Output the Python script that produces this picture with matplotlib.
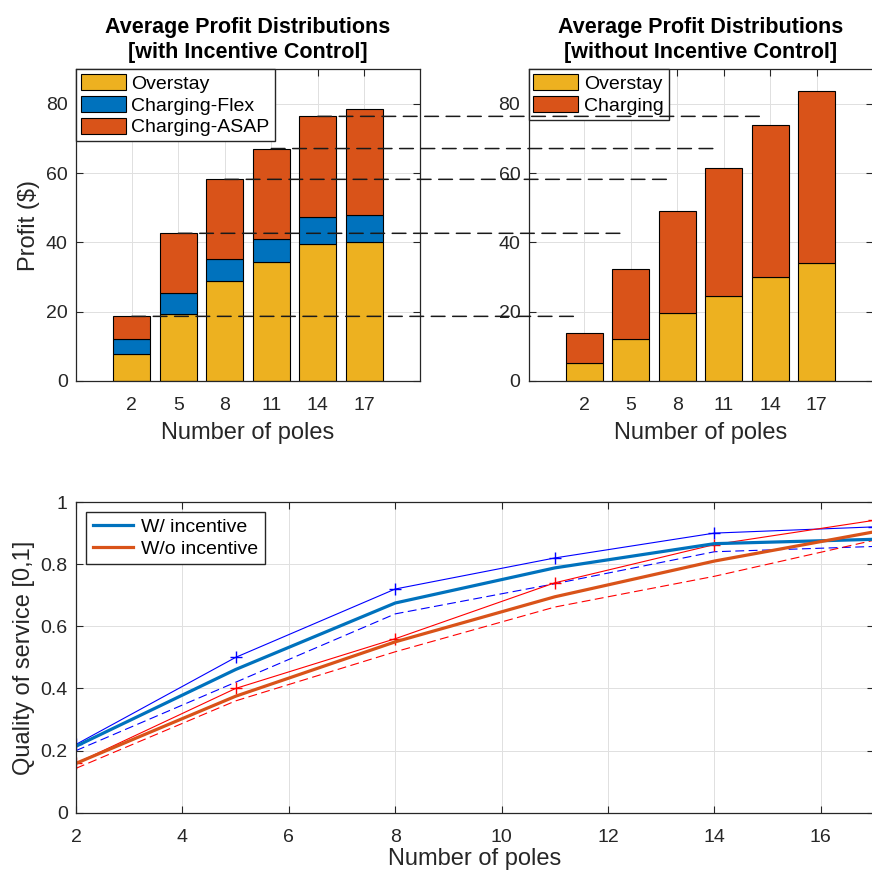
import numpy as np
import matplotlib
matplotlib.use('Agg')
import matplotlib.pyplot as plt
from matplotlib.patches import ConnectionPatch

plt.rcParams['font.family'] = ['Liberation Sans', 'DejaVu Sans']

# Profit data per number of poles
poles = ['2', '5', '8', '11', '14', '17']
inc_overstay = [7.8, 19.4, 28.7, 34.2, 39.6, 40.1]
inc_flex = [4.4, 5.9, 6.6, 6.9, 7.7, 7.8]
inc_asap = [6.4, 17.3, 22.9, 26.0, 29.1, 30.7]
noinc_overstay = [5.2, 12.2, 19.5, 24.4, 30.0, 34.1]
noinc_charging = [8.5, 20.1, 29.6, 37.0, 44.0, 49.7]

# Quality of service
qos_x = [2, 5, 8, 11, 14, 17]
qos_inc = [0.214, 0.461, 0.675, 0.788, 0.866, 0.88]
qos_inc_upper = [0.22, 0.50, 0.72, 0.82, 0.90, 0.92]
qos_inc_lower = [0.20, 0.42, 0.64, 0.737, 0.84, 0.857]
qos_noinc = [0.159, 0.375, 0.55, 0.695, 0.81, 0.904]
qos_noinc_upper = [0.159, 0.40, 0.56, 0.74, 0.863, 0.941]
qos_noinc_lower = [0.143, 0.36, 0.518, 0.662, 0.761, 0.877]

c_yellow = '#EDB120'
c_blue = '#0072BD'
c_orange = '#D95319'
c_axis = '#262626'

fig = plt.figure(figsize=(8.72, 8.74), dpi=100)
ax1 = fig.add_axes([0.0872, 0.5644, 0.3945, 0.3563])
ax2 = fig.add_axes([0.6062, 0.5644, 0.3945, 0.3563])
ax3 = fig.add_axes([0.0872, 0.0701, 0.9151, 0.3555])


def style_axes(ax):
    ax.grid(True, color='#e0e0e0', linewidth=0.7)
    ax.set_axisbelow(True)
    ax.tick_params(direction='in', top=True, right=True, length=5,
                   labelsize=14, colors=c_axis, width=0.8)
    ax.tick_params(axis='x', pad=11.5)
    ax.tick_params(axis='y', pad=6)
    for s in ax.spines.values():
        s.set_color(c_axis)
        s.set_linewidth(0.9)


pos = np.arange(len(poles))
bar_kw = dict(width=0.8, edgecolor='black', linewidth=0.8)

# With incentive control
inc_b1 = np.array(inc_overstay)
inc_b2 = inc_b1 + np.array(inc_flex)
ax1.bar(pos, inc_overstay, color=c_yellow, label='Overstay', **bar_kw)
ax1.bar(pos, inc_flex, bottom=inc_b1, color=c_blue, label='Charging-Flex', **bar_kw)
ax1.bar(pos, inc_asap, bottom=inc_b2, color=c_orange, label='Charging-ASAP', **bar_kw)
inc_total = inc_b2 + np.array(inc_asap)

# Without incentive control
ax2.bar(pos, noinc_overstay, color=c_yellow, label='Overstay', **bar_kw)
ax2.bar(pos, noinc_charging, bottom=noinc_overstay, color=c_orange,
        label='Charging', **bar_kw)

for ax, title in [(ax1, 'Average Profit Distributions\n[with Incentive Control]'),
                  (ax2, 'Average Profit Distributions\n[without Incentive Control]')]:
    style_axes(ax)
    ax.set_xlim(-1.2, 6.2)
    ax.set_ylim(0, 90)
    ax.set_xticks(pos)
    ax.set_xticklabels(poles)
    ax.set_yticks([0, 20, 40, 60, 80])
    ax.set_xlabel('Number of poles', fontsize=17, color=c_axis, labelpad=6)
    ax.set_title(title, fontsize=15.5, fontweight='bold', pad=8, linespacing=1.25)
    ax.legend(loc='upper left', fontsize=14, frameon=True, fancybox=False,
              framealpha=1, edgecolor=c_axis, borderaxespad=0,
              handlelength=2.3, handleheight=0.9, borderpad=0.25,
              labelspacing=0.15, handletextpad=0.3)
ax1.set_ylabel('Profit ($)', fontsize=17, color=c_axis, labelpad=4)

# Dashed guides from the totals with incentive over to the other panel
for i, tot in enumerate(inc_total[:-1]):
    con = ConnectionPatch(xyA=(pos[i], tot), coordsA=ax1.transData,
                          xyB=(pos[i] - 0.2, tot), coordsB=ax2.transData,
                          color='#1a1a1a', linewidth=1.1, linestyle=(0, (9, 5)),
                          zorder=5)
    fig.add_artist(con)

# Quality of service curves
style_axes(ax3)
ax3.plot(qos_x, qos_inc_upper, '-+', color='blue', linewidth=0.8, markersize=8)
ax3.plot(qos_x, qos_inc_lower, '--', color='blue', linewidth=0.8, dashes=(8, 4))
ax3.plot(qos_x, qos_noinc_upper, '-+', color='red', linewidth=0.8, markersize=8)
ax3.plot(qos_x, qos_noinc_lower, '--', color='red', linewidth=0.8, dashes=(8, 4))
ax3.plot(qos_x, qos_inc, color=c_blue, linewidth=2.3, label='W/ incentive')
ax3.plot(qos_x, qos_noinc, color=c_orange, linewidth=2.3, label='W/o incentive')
ax3.set_xlim(2, 17)
ax3.set_ylim(0, 1)
ax3.set_xticks(range(2, 17, 2))
ax3.set_yticks([0, 0.2, 0.4, 0.6, 0.8, 1])
ax3.set_yticklabels(['0', '0.2', '0.4', '0.6', '0.8', '1'])
ax3.set_xlabel('Number of poles', fontsize=17, color=c_axis, labelpad=2)
ax3.set_ylabel('Quality of service [0,1]', fontsize=17, color=c_axis, labelpad=4)
ax3.legend(loc='upper left', fontsize=14, frameon=True, fancybox=False,
           framealpha=1, edgecolor=c_axis, borderaxespad=0.5,
           handlelength=2.1, borderpad=0.35, labelspacing=0.2, handletextpad=0.4)

fig.savefig('out.png', dpi=100)
